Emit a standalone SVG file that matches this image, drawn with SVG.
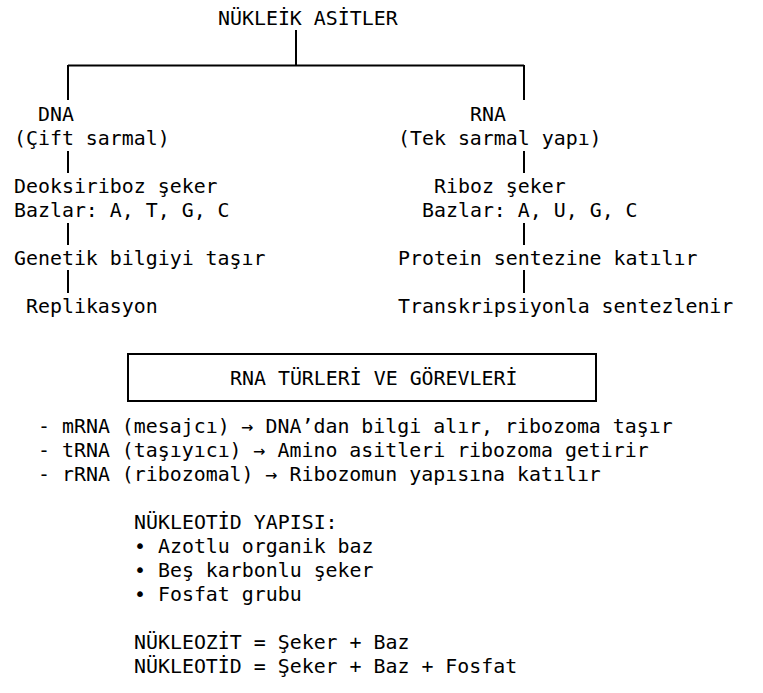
<svg xmlns="http://www.w3.org/2000/svg" width="763" height="693" viewBox="0 0 763 693">
<style>
text{font-family:"DejaVu Sans Mono","Liberation Mono",monospace;font-size:19.9px;fill:#000;white-space:pre}
.ln{stroke:#000;stroke-width:2;fill:none}
</style>
<rect width="763" height="693" fill="#fff"/>
<g id="connectors">
<path class="ln" d="M296 30V65.5M68 65.5H524M68 65V100M524 65V100"/>
<path class="ln" d="M68 151V173M68 223V245M68 270V293"/>
<path class="ln" d="M524 151V173M524 223V245M524 270V293"/>
</g>
<g id="root"><text x="218" y="25">NÜKLEİK ASİTLER</text></g>
<g id="dna">
<text x="38" y="121">DNA</text>
<text x="14" y="145">(Çift sarmal)</text>
</g>
<g id="dna-seker">
<text x="14" y="193">Deoksiriboz şeker</text>
<text x="14" y="217">Bazlar: A, T, G, C</text>
</g>
<g id="dna-bilgi"><text x="14" y="265">Genetik bilgiyi taşır</text></g>
<g id="dna-rep"><text x="26" y="313">Replikasyon</text></g>
<g id="rna">
<text x="470" y="121">RNA</text>
<text x="398" y="145">(Tek sarmal yapı)</text>
</g>
<g id="rna-seker">
<text x="434" y="193">Riboz şeker</text>
<text x="422" y="217">Bazlar: A, U, G, C</text>
</g>
<g id="rna-protein"><text x="398" y="265">Protein sentezine katılır</text></g>
<g id="rna-trans"><text x="398" y="313">Transkripsiyonla sentezlenir</text></g>
<g id="rna-turleri">
<rect class="ln" x="128" y="354" width="468" height="47"/>
<text x="230" y="385">RNA TÜRLERİ VE GÖREVLERİ</text>
</g>
<g id="turler-liste">
<text x="38" y="433">- mRNA (mesajcı) → DNA’dan bilgi alır, ribozoma taşır</text>
<text x="38" y="457">- tRNA (taşıyıcı) → Amino asitleri ribozoma getirir</text>
<text x="38" y="481">- rRNA (ribozomal) → Ribozomun yapısına katılır</text>
</g>
<g id="nukleotid-yapisi">
<text x="134" y="529">NÜKLEOTİD YAPISI:</text>
<text x="134" y="553">• Azotlu organik baz</text>
<text x="134" y="577">• Beş karbonlu şeker</text>
<text x="134" y="601">• Fosfat grubu</text>
</g>
<g id="formuller">
<text x="134" y="649">NÜKLEOZİT = Şeker + Baz</text>
<text x="134" y="673">NÜKLEOTİD = Şeker + Baz + Fosfat</text>
</g>
</svg>
